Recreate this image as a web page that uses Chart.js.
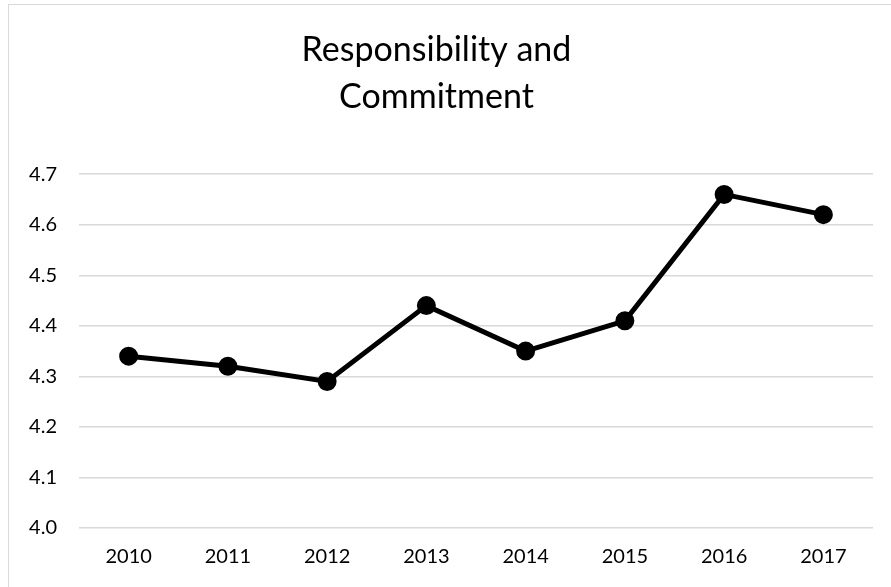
<!DOCTYPE html>
<html>
<head>
<meta charset="utf-8">
<script src="https://cdn.jsdelivr.net/npm/chart.js@4/dist/chart.umd.min.js"></script>
<style>
  html, body { margin: 0; padding: 0; background: #fff; }
  #wrap { position: absolute; left: 0; top: 0; width: 891px; height: 587px; }
  #frame { position: absolute; left: 8px; top: 4px; width: 900px; height: 600px; border: 1px solid #d9d9d9; box-sizing: border-box; }
</style>
</head>
<body>
<div id="wrap">
  <div id="frame"></div>
  <canvas id="chart" width="891" height="587"></canvas>
</div>
<script>
'use strict';

var years = ['2010', '2011', '2012', '2013', '2014', '2015', '2016', '2017'];
var scores = [4.34, 4.32, 4.29, 4.44, 4.35, 4.41, 4.66, 4.62];
var titleLines = ['Responsibility and', 'Commitment'];
var yMin = 4.0;
var yMax = 4.7;
var yStep = 0.1;

var fontName = 'Lato, "Open Sans", sans-serif';

var ctx = document.getElementById('chart');
new Chart(ctx, {
   type: 'line',
   data: {
      labels: years,
      datasets: [{
         data: scores,
         borderColor: '#000',
         backgroundColor: '#000',
         borderWidth: 5,
         pointRadius: 7,
         pointHoverRadius: 7,
         tension: 0,
         fill: false
      }]
   },
   options: {
      responsive: false,
      animation: false,
      layout: { padding: { left: 0, right: 18, top: 0, bottom: 0 } },
      plugins: {
         legend: { display: false },
         tooltip: { enabled: false },
         title: {
            display: true,
            text: titleLines,
            color: '#000',
            font: { family: fontName, size: 34, weight: 'normal', lineHeight: 1.4 },
            padding: { top: 26, bottom: 53 }
         }
      },
      scales: {
         x: {
            offset: true,
            grid: { display: false, drawTicks: false },
            border: { display: false },
            ticks: {
               color: '#000',
               font: { family: fontName, size: 20 },
               padding: 17,
               maxRotation: 0
            },
            afterFit: function(scale) { scale.height = 59; }
         },
         y: {
            min: yMin,
            max: yMax,
            grid: { color: '#d9d9d9', lineWidth: 1.5, drawTicks: false },
            border: { display: false },
            ticks: {
               stepSize: yStep,
               color: '#000',
               font: { family: fontName, size: 20 },
               padding: 22,
               callback: function(v) { return v.toFixed(1); }
            },
            afterFit: function(scale) { scale.width = 79; }
         }
      }
   }
});
</script>
</body>
</html>
